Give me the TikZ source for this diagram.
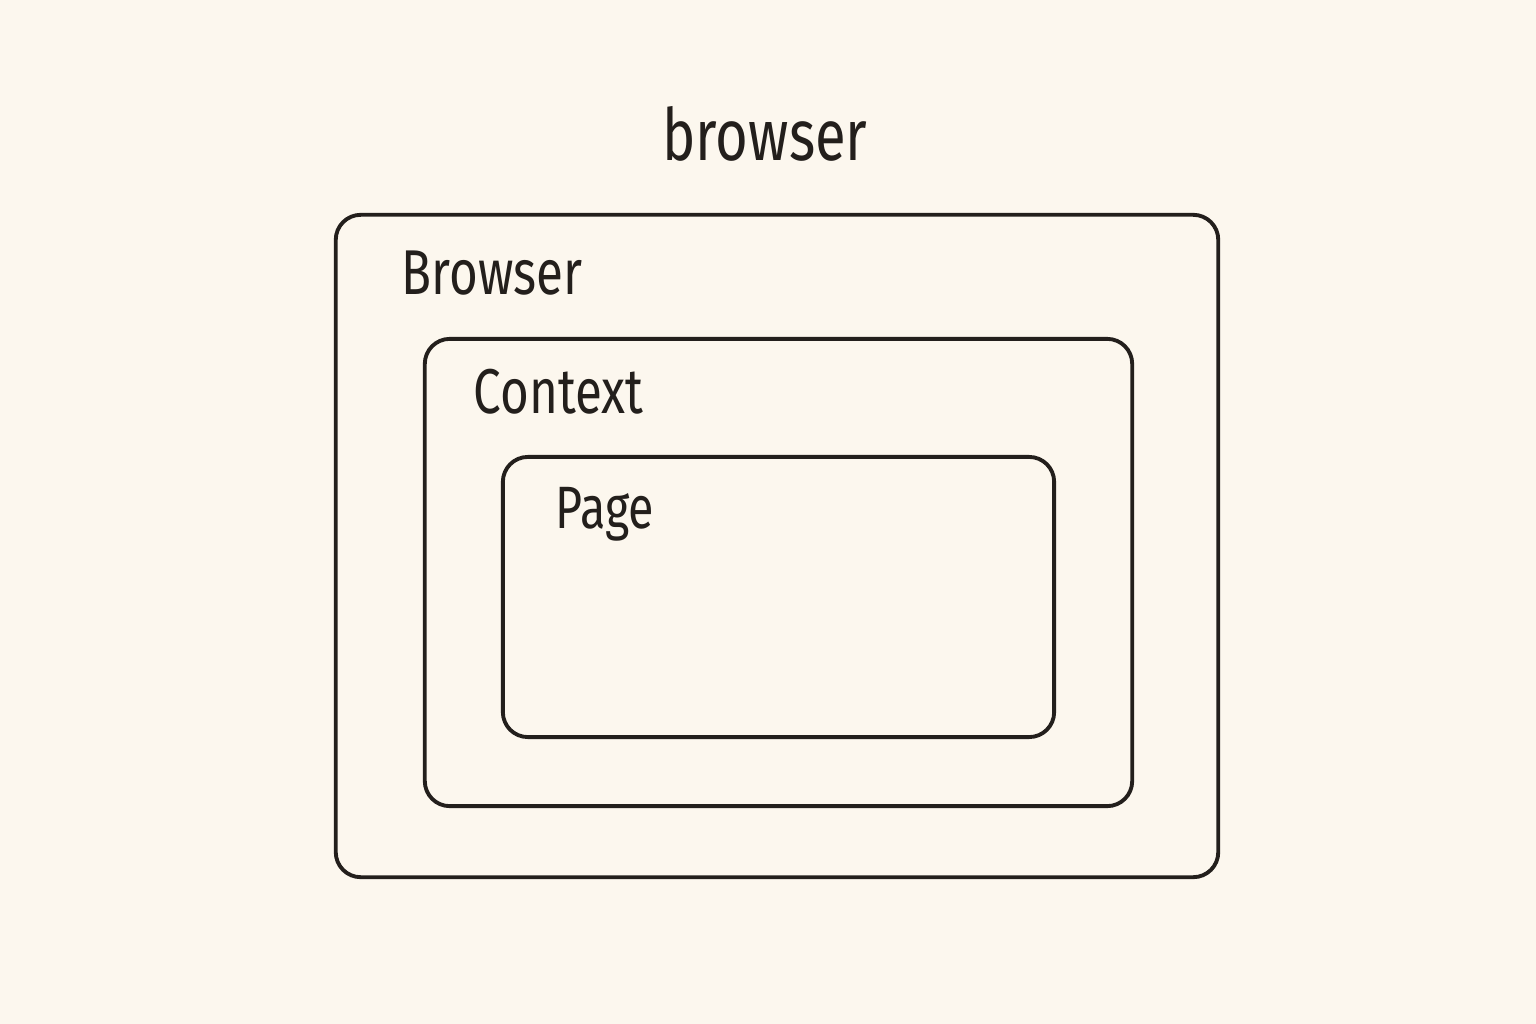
\documentclass[tikz,border=0pt]{standalone}
\usepackage{fontspec}
\setmainfont{Fira Sans}[FakeStretch=0.78]
\definecolor{bg}{HTML}{FCF7EE}
\definecolor{ink}{HTML}{231F1C}
\begin{document}
\begin{tikzpicture}[x=0.01cm,y=-0.01cm,
  box/.style={draw=ink,line width=1.1pt,rounded corners=0.25cm,minimum width=#1,inner sep=0pt},
  lbl/.style={text=ink,anchor=west,inner sep=0pt}]
\fill[bg] (0,0) rectangle (1536,1024);
\useasboundingbox (0,0) rectangle (1536,1024);
\node[box=8.82cm,minimum height=6.62cm] (outer) at (777,546) {};
\node[box=7.07cm,minimum height=4.67cm] (middle) at (778.5,572.5) {};
\node[box=5.51cm,minimum height=2.80cm] (inner) at (778.5,597) {};
\node[text=ink,inner sep=0pt,font=\fontsize{20.5}{24}\selectfont] (title) at (765,134) {browser};
\node[lbl,font=\fontsize{18}{22}\selectfont] (lb) at (401,273) {Browser};
\node[lbl,font=\fontsize{18}{22}\selectfont] (lc) at (473,392) {Context};
\node[lbl,font=\fontsize{17}{22}\selectfont] (lp) at (555,514) {Page};
\end{tikzpicture}
\end{document}
